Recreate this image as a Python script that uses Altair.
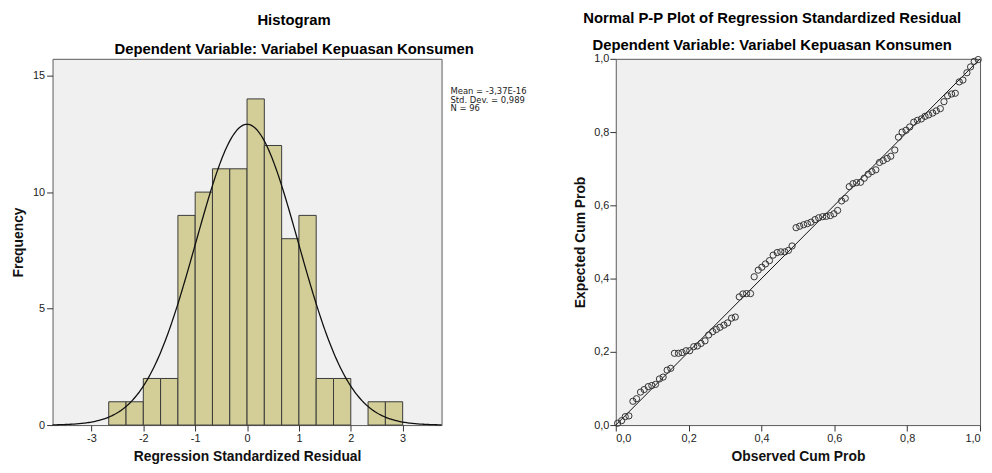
import altair as alt
import pandas as pd

# ---------------- Histogram data ----------------
bin_left = [-2.667, -2.333, -2.0, -1.667, -1.333, -1.0, -0.667, -0.333, 0.0,
            0.333, 0.667, 1.0, 1.333, 1.667, 2.0, 2.333, 2.667]
bin_right = [-2.333, -2.0, -1.667, -1.333, -1.0, -0.667, -0.333, 0.0, 0.333,
             0.667, 1.0, 1.333, 1.667, 2.0, 2.333, 2.667, 3.0]
frequency = [1, 1, 2, 2, 9, 10, 11, 11, 14, 12, 8, 9, 2, 2, 0, 1, 1]

res_mean = -3.37e-16
res_sd = 0.989
res_n = 96
bin_width = 1.0 / 3.0

hist_x_ticks = [-3, -2, -1, 0, 1, 2, 3]
hist_y_ticks = [0, 5, 10, 15]
stats_text = "Mean = -3,37E-16\nStd. Dev. = 0,989\nN = 96"

# ---------------- P-P plot data ----------------
observed_cum = [0.005, 0.016, 0.026, 0.036, 0.047, 0.057, 0.068, 0.078, 0.089, 0.099,
                0.109, 0.120, 0.130, 0.141, 0.151, 0.161, 0.172, 0.182, 0.193, 0.203,
                0.214, 0.224, 0.234, 0.245, 0.255, 0.266, 0.276, 0.286, 0.297, 0.307,
                0.318, 0.328, 0.339, 0.349, 0.359, 0.370, 0.380, 0.391, 0.401, 0.411,
                0.422, 0.432, 0.443, 0.453, 0.464, 0.474, 0.484, 0.495, 0.505, 0.516,
                0.526, 0.536, 0.547, 0.557, 0.568, 0.578, 0.589, 0.599, 0.609, 0.620,
                0.630, 0.641, 0.651, 0.661, 0.672, 0.682, 0.693, 0.703, 0.714, 0.724,
                0.734, 0.745, 0.755, 0.766, 0.776, 0.786, 0.797, 0.807, 0.818, 0.828,
                0.839, 0.849, 0.859, 0.870, 0.880, 0.891, 0.901, 0.911, 0.922, 0.932,
                0.943, 0.953, 0.964, 0.974, 0.984, 0.995]
expected_cum = [0.005, 0.012, 0.023, 0.025, 0.065, 0.072, 0.090, 0.097, 0.105, 0.108,
                0.111, 0.126, 0.131, 0.150, 0.155, 0.196, 0.196, 0.198, 0.203, 0.203,
                0.214, 0.216, 0.223, 0.230, 0.246, 0.255, 0.261, 0.267, 0.273, 0.279,
                0.292, 0.295, 0.350, 0.358, 0.359, 0.359, 0.405, 0.423, 0.431, 0.440,
                0.449, 0.464, 0.471, 0.473, 0.473, 0.477, 0.489, 0.539, 0.543, 0.547,
                0.550, 0.554, 0.561, 0.566, 0.569, 0.570, 0.572, 0.577, 0.586, 0.612,
                0.619, 0.651, 0.659, 0.662, 0.663, 0.674, 0.685, 0.692, 0.697, 0.717,
                0.722, 0.728, 0.734, 0.751, 0.786, 0.800, 0.805, 0.814, 0.827, 0.832,
                0.836, 0.843, 0.847, 0.852, 0.858, 0.864, 0.883, 0.899, 0.904, 0.906,
                0.937, 0.942, 0.962, 0.978, 0.993, 0.998]
pp_ticks = [0.0, 0.2, 0.4, 0.6, 0.8, 1.0]
diag = [0.0, 1.0]

FONT = "Liberation Sans"
comma_fmt = "replace(format(datum.value, '.1f'), '.', ',')"

# ---------------- Histogram panel ----------------
hist_df = pd.DataFrame({"lo": bin_left, "hi": bin_right, "freq": frequency})
hist_df = hist_df[hist_df["freq"] > 0]

hx = alt.Scale(domain=[-3.75, 3.75], nice=False, zero=False)
hy = alt.Scale(domain=[0, 15.72], nice=False)

bars = alt.Chart(hist_df).mark_bar(
    fill="#D3CE97", stroke="#3A3A3A", strokeWidth=1
).encode(
    x=alt.X("lo:Q", scale=hx, axis=alt.Axis(
        values=hist_x_ticks, labelExpr="'' + datum.value", labelFlush=False,
        title="Regression Standardized Residual", titleX=196.5, titleY=36,
        titleBaseline="alphabetic", labelPadding=2)),
    x2="hi:Q",
    y=alt.Y("freq:Q", scale=hy, axis=alt.Axis(
        values=hist_y_ticks, labelExpr="'' + datum.value", title="Frequency",
        titleX=-34, titleY=185, titleAngle=270, titleAlign="center",
        titleBaseline="middle", labelPadding=2)),
    y2=alt.datum(0),
)

curve = alt.Chart(alt.sequence(-3.75, 3.76, 0.025, as_="z")).transform_calculate(
    dens=f"{res_n} * {bin_width} * densityNormal(datum.z, {res_mean}, {res_sd})"
).mark_line(color="#111111", strokeWidth=1.3).encode(
    x=alt.X("z:Q", scale=hx),
    y=alt.Y("dens:Q", scale=hy),
)

stats = alt.Chart(pd.DataFrame({"t": [stats_text]})).mark_text(
    align="left", baseline="middle", font="DejaVu Sans", fontSize=8.5,
    lineHeight=8.5, lineBreak="\n", color="#222222"
).encode(text="t:N", x=alt.value(402), y=alt.value(33))

left = alt.layer(bars, curve, stats).properties(
    width=393, height=370,
    title=alt.TitleParams(
        text="Histogram",
        subtitle="Dependent Variable: Variabel Kepuasan Konsumen",
        font=FONT, fontSize=15, fontWeight="bold", color="black",
        subtitleFont=FONT, subtitleFontSize=15, subtitleFontWeight="bold",
        subtitleColor="black", subtitlePadding=14,
        anchor="middle", frame="group", dx=47.5, offset=2),
)

# ---------------- P-P panel ----------------
pp_df = pd.DataFrame({"obs": observed_cum, "exp": expected_cum})
px = alt.Scale(domain=[0, 1], nice=False)
py = alt.Scale(domain=[0, 1], nice=False)

points = alt.Chart(pp_df).mark_point(
    shape="circle", filled=False, size=40, stroke="#333333", strokeWidth=1, opacity=1
).encode(
    x=alt.X("obs:Q", scale=px, axis=alt.Axis(
        values=pp_ticks, labelExpr=comma_fmt, labelFlush=True,
        title="Observed Cum Prob",
        titleX=184, titleY=36, titleBaseline="alphabetic", labelPadding=2)),
    y=alt.Y("exp:Q", scale=py, axis=alt.Axis(
        values=pp_ticks, labelExpr=comma_fmt, title="Expected Cum Prob",
        titleX=-36, titleY=185, titleAngle=270, titleAlign="center",
        titleBaseline="middle", labelPadding=1)),
)

line = alt.Chart(pd.DataFrame({"d": diag})).mark_line(
    color="#111111", strokeWidth=1
).encode(x=alt.X("d:Q", scale=px), y=alt.Y("d:Q", scale=py))

right = alt.layer(line, points).properties(
    width=368, height=370,
    title=alt.TitleParams(
        text="Normal P-P Plot of Regression Standardized Residual",
        subtitle="Dependent Variable: Variabel Kepuasan Konsumen",
        font=FONT, fontSize=15, fontWeight="bold", color="black",
        subtitleFont=FONT, subtitleFontSize=15, subtitleFontWeight="bold",
        subtitleColor="black", subtitlePadding=12,
        anchor="middle", frame="group", dx=-26, offset=0),
)

chart = alt.hconcat(left, right, spacing=176, bounds="flush").properties(
    padding={"left": 3, "top": 0, "right": 0, "bottom": 0},
    background="white",
).configure_view(
    fill="#F0F0F0", stroke="#5A5A5A", strokeWidth=1
).configure_axis(
    domain=False, grid=False, tickColor="#333333", tickSize=6,
    labelFont=FONT, labelFontSize=11, labelColor="#222222",
    titleFont=FONT, titleFontSize=14, titleFontWeight="bold", titleColor="#111111",
)

chart.save("out.html", embed_options={"renderer": "svg", "actions": False})
